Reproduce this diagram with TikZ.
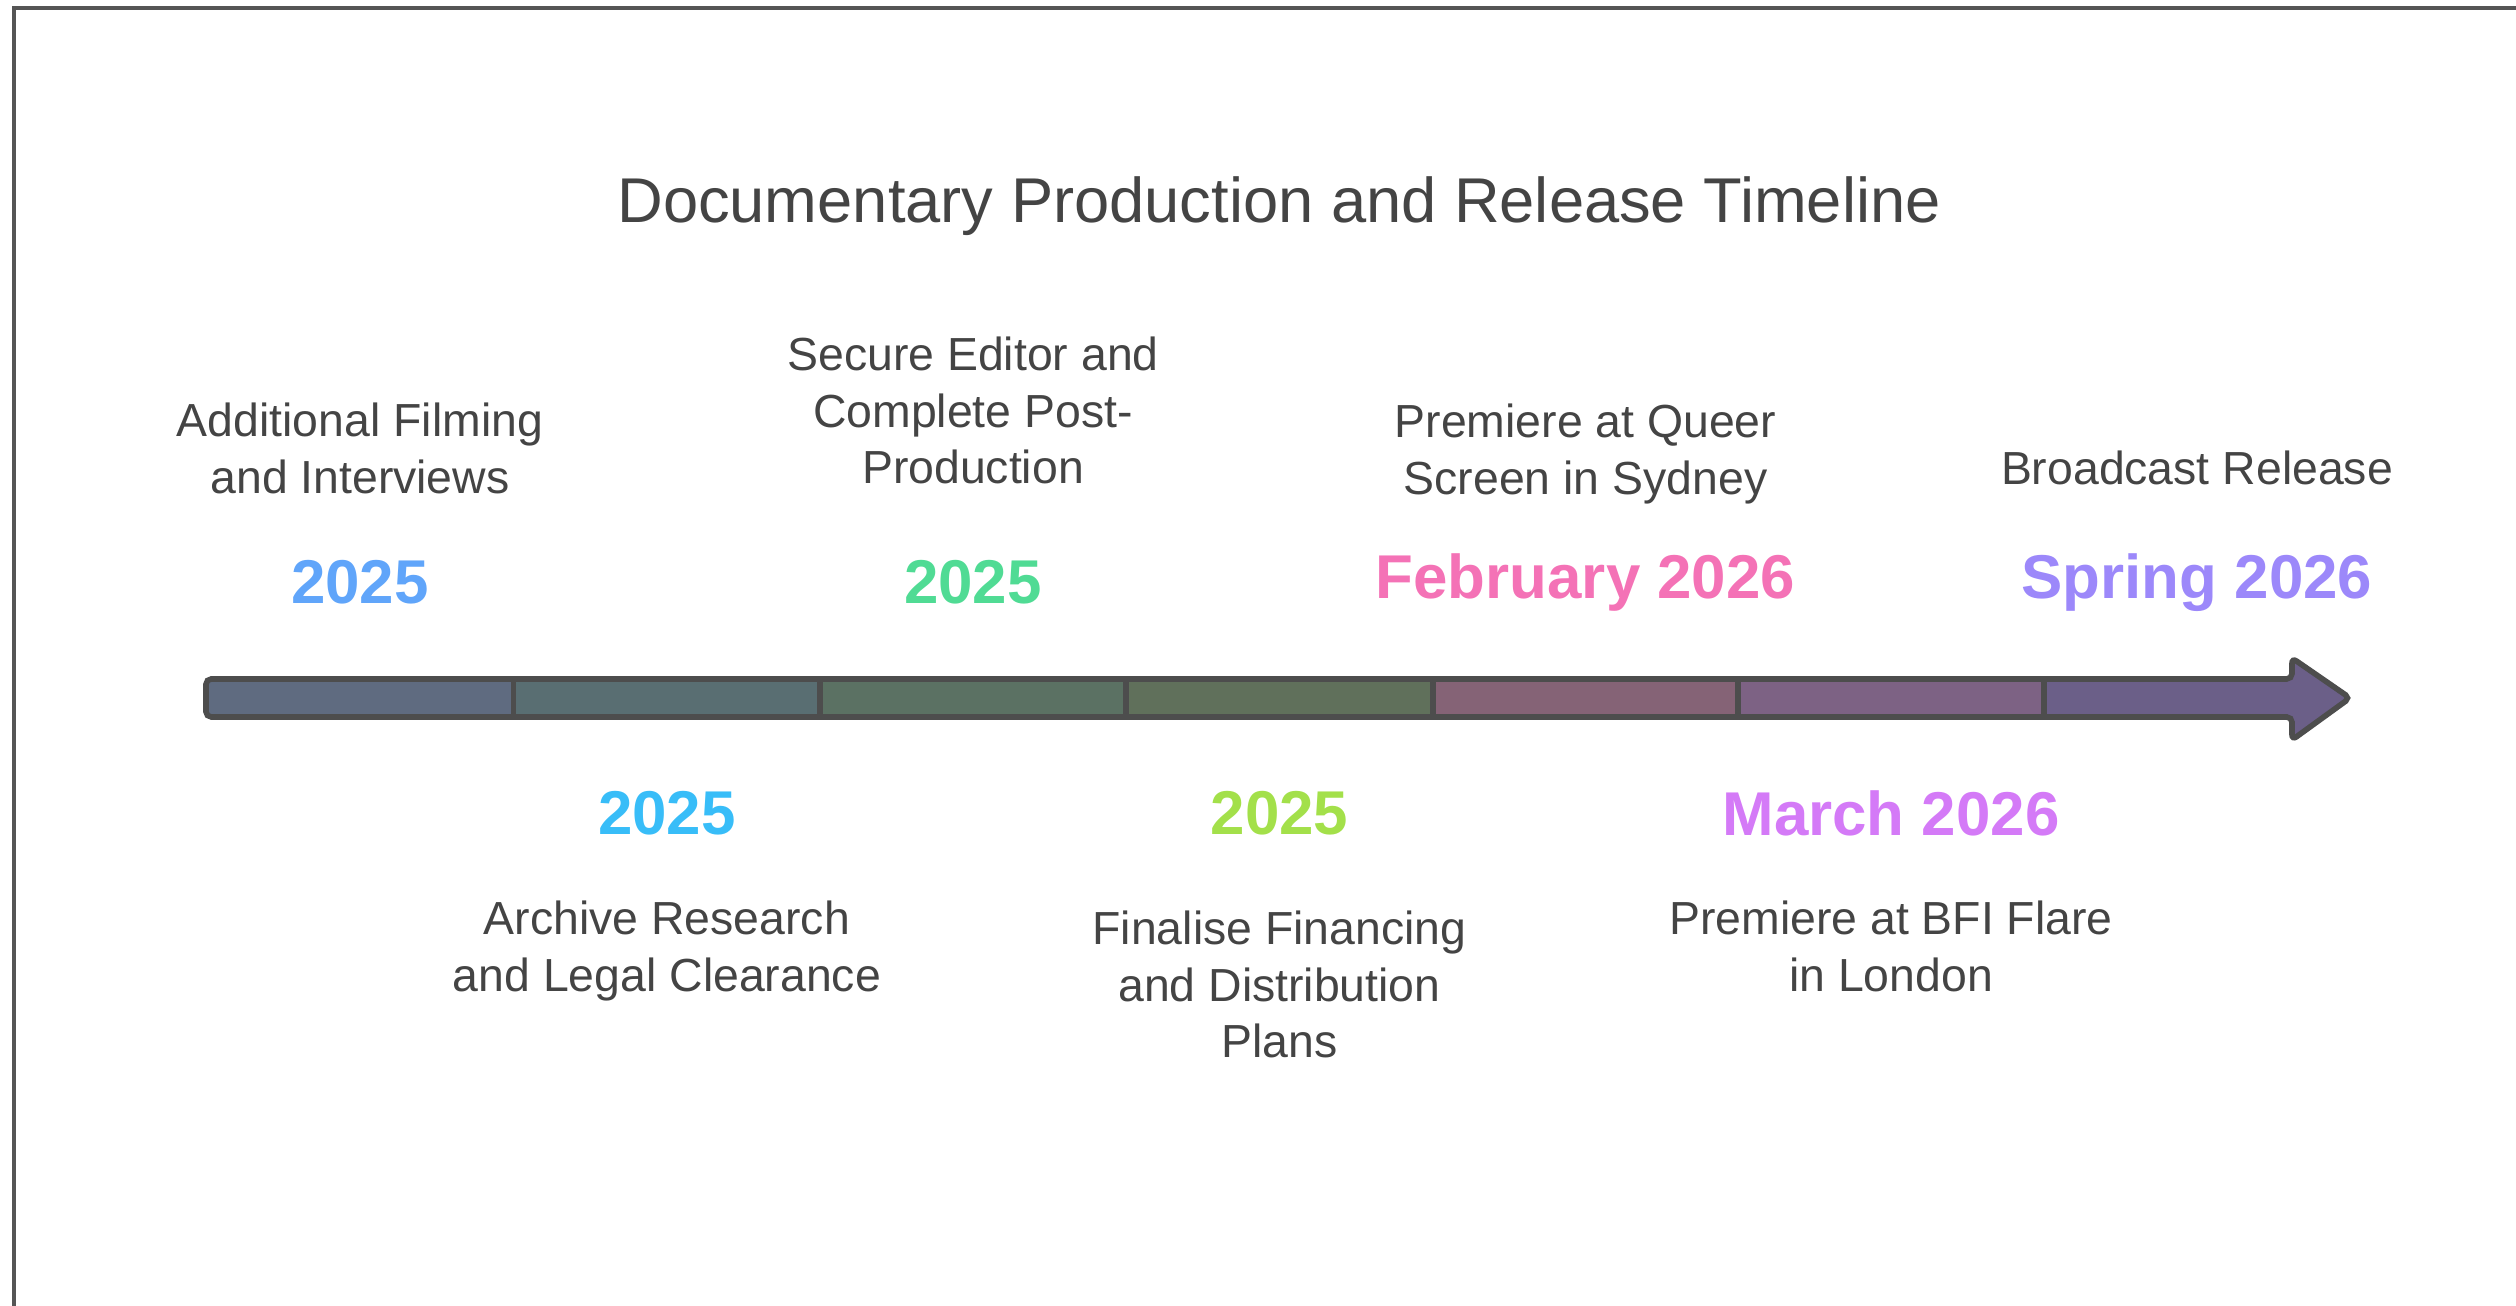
\documentclass[tikz,border=0pt]{standalone}
\usepackage{fontspec}
\setmainfont{Liberation Sans}
\usepackage{tikz}
\usetikzlibrary{positioning,calc}
\definecolor{inkgray}{HTML}{444444}
\definecolor{framegray}{HTML}{555555}
\definecolor{barline}{HTML}{4D4D4D}
\definecolor{sega}{HTML}{5F6B80}
\definecolor{segb}{HTML}{596E72}
\definecolor{segc}{HTML}{5B7163}
\definecolor{segd}{HTML}{60705B}
\definecolor{sege}{HTML}{856376}
\definecolor{segf}{HTML}{7D6284}
\definecolor{segg}{HTML}{6B5F88}
\definecolor{yra}{HTML}{60A5FA}
\definecolor{yrb}{HTML}{38BDF8}
\definecolor{yrc}{HTML}{50DB94}
\definecolor{yrd}{HTML}{A3E04A}
\definecolor{yre}{HTML}{F472B6}
\definecolor{yrf}{HTML}{D47AF7}
\definecolor{yrg}{HTML}{9C88FA}
\tikzstyle{titel}=[text=inkgray, font=\fontsize{18}{22}\selectfont]
\tikzstyle{datum}=[font=\bfseries\fontsize{17.6}{20}\selectfont, inner sep=0pt]
\tikzstyle{evt}=[text=inkgray, align=center, inner sep=0pt,
  font=\fontsize{13.2}{16.2}\selectfont]
\tikzstyle{seg}=[draw=barline, line width=1.6pt]
\tikzstyle{frame}=[draw=framegray, line width=1.1pt]
\newcommand{\datum}[3]{node (d#1)[datum, text=#2]{#3}}
\newcommand{\evt}[2]{node (e#1)[evt]{#2}}
\begin{document}
\begin{tikzpicture}
	\useasboundingbox (0,0) rectangle (25.16,13.06);
	
	% Draw frame
	\path[frame] (25.16,12.98) -- (0.14,12.98) -- (0.14,0);
	
	% Draw title
	\node (title)[titel] at (12.79,11.0) {Documentary Production and Release Timeline};
	
	% Fill bar segments
	\fill[sega, rounded corners=2pt] (2.06,5.89) rectangle (5.135,6.27);
	\fill[sega] (3.5,5.89) rectangle (5.135,6.27);
	\fill[segb] (5.135,5.89) rectangle (8.20,6.27);
	\fill[segc] (8.20,5.89) rectangle (11.26,6.27);
	\fill[segd] (11.26,5.89) rectangle (14.33,6.27);
	\fill[sege] (14.33,5.89) rectangle (17.38,6.27);
	\fill[segf] (17.38,5.89) rectangle (20.44,6.27);
	\fill[segg] (20.44,5.89) -- (20.44,6.27) -- (22.92,6.27)
	  -- (22.92,6.48) -- (23.50,6.08) -- (22.92,5.66) -- (22.92,5.89) -- cycle;
	
	% Draw bar outline and dividers
	\foreach \x in {5.135,8.20,11.26,14.33,17.38,20.44}
	  \path[seg] (\x,5.89) -- (\x,6.27);
	\path[seg, rounded corners=1.5pt] (2.06,6.27) -- (22.92,6.27) -- (22.92,6.48)
	  -- (23.50,6.08) -- (22.92,5.66) -- (22.92,5.89) -- (2.06,5.89) -- cycle;
	
	% Draw dates
	\path (3.60,7.235) \datum{1}{yra}{2025};
	\path (6.67,4.925) \datum{2}{yrb}{2025};
	\path (9.73,7.235) \datum{3}{yrc}{2025};
	\path (12.795,4.925) \datum{4}{yrd}{2025};
	\path (15.855,7.235) \datum{5}{yre}{February 2026};
	\path (18.91,4.925) \datum{6}{yrf}{March 2026};
	\path (21.97,7.235) \datum{7}{yrg}{Spring 2026};
	
	% Draw events
	\path (d1)+(0,1.34) \evt{1}{Additional Filming\\and Interviews};
	\path (d2)+(0,-1.375) \evt{2}{Archive Research\\and Legal Clearance};
	\path (d3)+(0,1.72) \evt{3}{Secure Editor and\\Complete Post-\\Production};
	\path (d4)+(0,-1.71) \evt{4}{Finalise Financing\\and Distribution\\Plans};
	\path (d5)+(0,1.285) \evt{5}{Premiere at Queer\\Screen in Sydney};
	\path (d6)+(0,-1.325) \evt{6}{Premiere at BFI Flare\\in London};
	\path (d7)+(0,1.145) \evt{7}{Broadcast Release};
	
\end{tikzpicture}
\end{document}
